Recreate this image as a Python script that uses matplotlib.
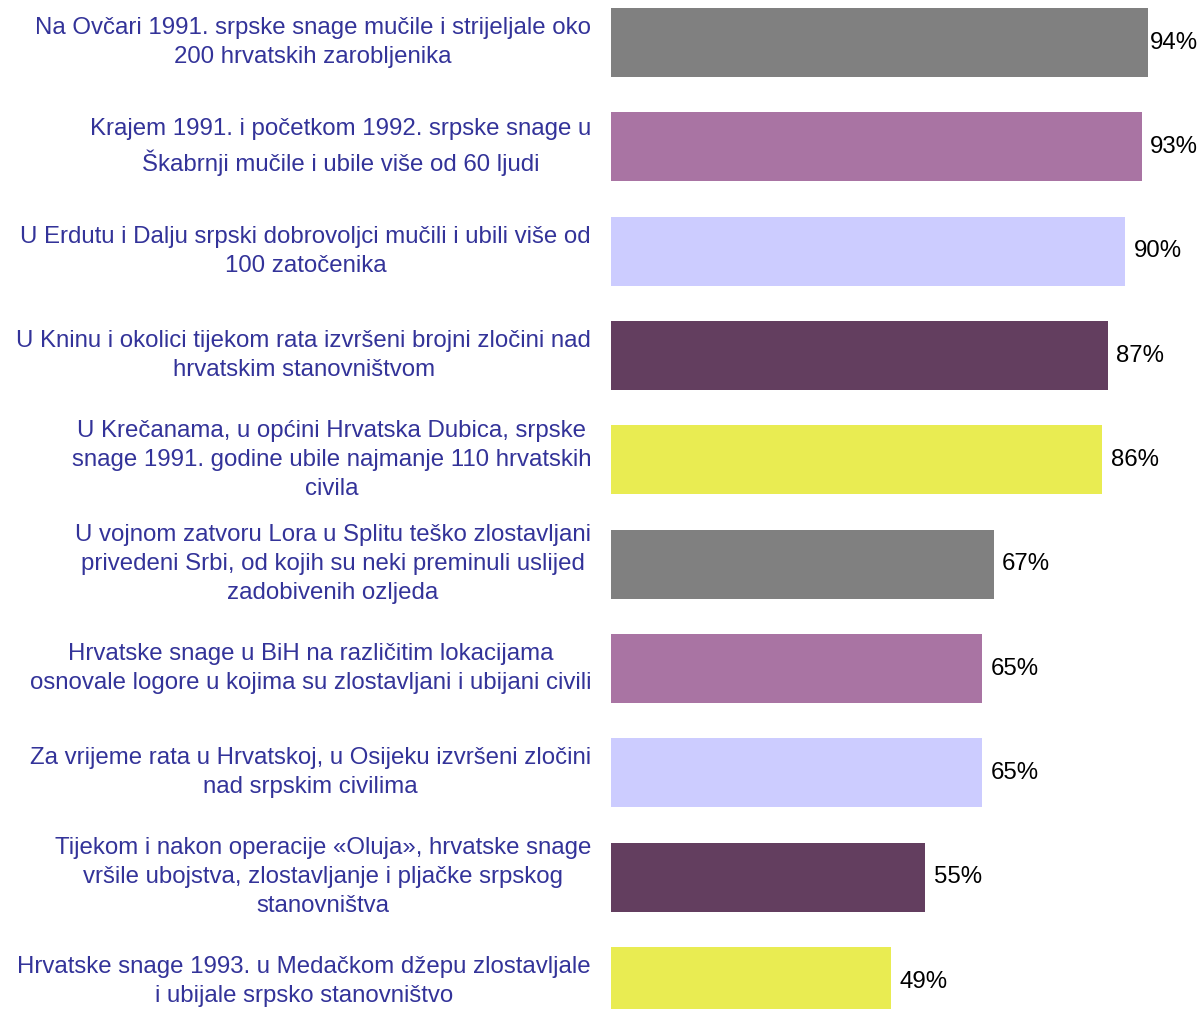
import matplotlib
matplotlib.use('Agg')
import matplotlib.pyplot as plt

labels = [
    "Na Ovčari 1991. srpske snage mučile i strijeljale oko\n200 hrvatskih zarobljenika",
    "Krajem 1991. i početkom 1992. srpske snage u\nŠkabrnji mučile i ubile više od 60 ljudi",
    "U Erdutu i Dalju srpski dobrovoljci mučili i ubili više od\n100 zatočenika",
    "U Kninu i okolici tijekom rata izvršeni brojni zločini nad\nhrvatskim stanovništvom",
    "U Krečanama, u općini Hrvatska Dubica, srpske\nsnage 1991. godine ubile najmanje 110 hrvatskih\ncivila",
    "U vojnom zatvoru Lora u Splitu teško zlostavljani\nprivedeni Srbi, od kojih su neki preminuli uslijed\nzadobivenih ozljeda",
    "Hrvatske snage u BiH na različitim lokacijama\nosnovale logore u kojima su zlostavljani i ubijani civili",
    "Za vrijeme rata u Hrvatskoj, u Osijeku izvršeni zločini\nnad srpskim civilima",
    "Tijekom i nakon operacije «Oluja», hrvatske snage\nvršile ubojstva, zlostavljanje i pljačke srpskog\nstanovništva",
    "Hrvatske snage 1993. u Medačkom džepu zlostavljale\ni ubijale srpsko stanovništvo",
]
values = [94, 93, 90, 87, 86, 67, 65, 65, 55, 49]
colors = ["#808080", "#a974a3", "#ccccff", "#633e5f", "#e9ec52",
          "#808080", "#a974a3", "#ccccff", "#633e5f", "#e9ec52"]

plt.rcParams['font.family'] = ['Liberation Sans', 'DejaVu Sans']

fig = plt.figure(figsize=(12.02, 10.09), dpi=100)
ax = fig.add_axes([611 / 1202, -0.0245, 571 / 1202, 1.034])

pos = list(range(len(values)))
ax.barh(pos, values, height=0.66, color=colors)
ax.set_xlim(0, 100)
ax.set_ylim(9.5, -0.5)

for i, (lab, v) in enumerate(zip(labels, values)):
    ax.text(-3.5, i, lab, ha='right', va='center', multialignment='center',
            fontsize=17.3, color='#333399', linespacing=1.42)
    # keep the value label inside the figure for the longest bar
    ax.text(min(v + 1.5, 94.3), i, f"{v}%", ha='left', va='center',
            fontsize=17.3, color='black')

ax.axis('off')
fig.savefig('out.png', dpi=100)
